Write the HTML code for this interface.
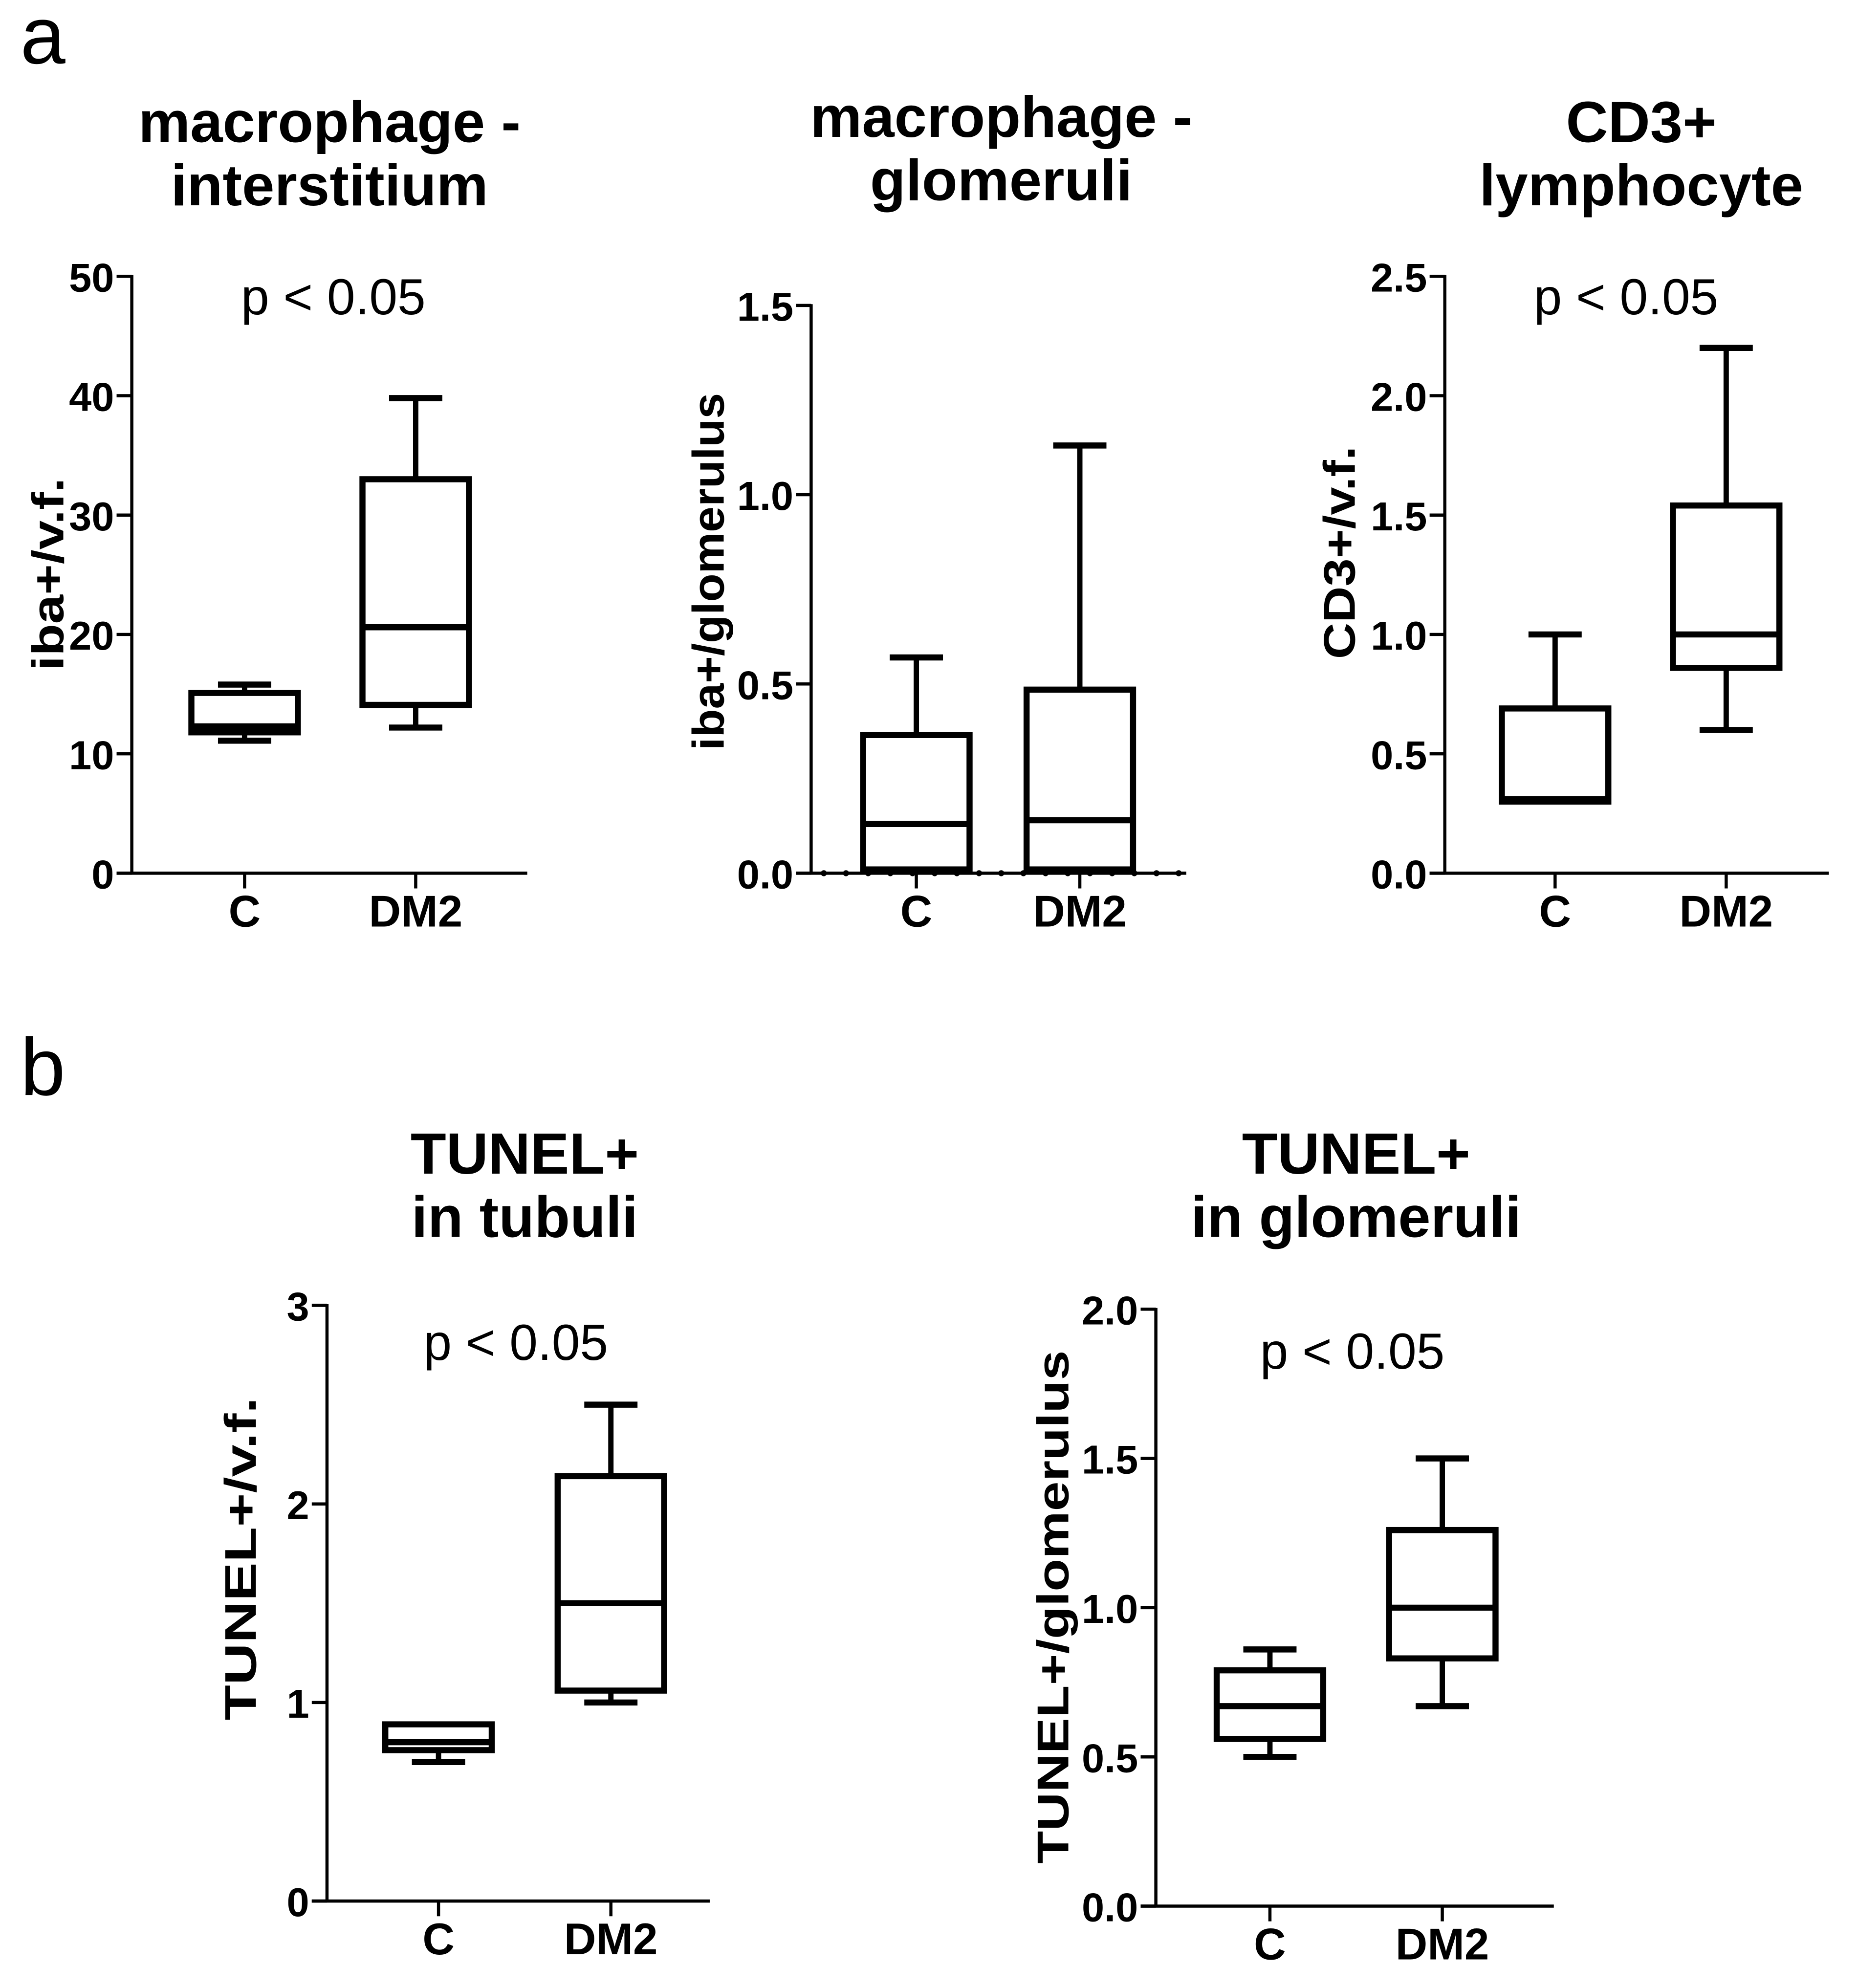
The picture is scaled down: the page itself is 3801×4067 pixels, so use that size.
<!DOCTYPE html>
<html><head><meta charset="utf-8"><style>
html,body{margin:0;padding:0;background:#fff;}
svg{display:block;}
text{font-family:"Liberation Sans",Arial,sans-serif;fill:#000;}
.t{font-weight:bold;font-size:32px;}
.xl{font-weight:bold;font-size:35px;}
.ti{font-weight:bold;font-size:46px;}
.ax{font-weight:bold;font-size:35px;}
.p{font-size:40px;}
</style></head><body>
<svg id="fig" width="3801" height="4067" viewBox="0 0 1466 1568.6" xmlns="http://www.w3.org/2000/svg">
<text x="16" y="50" font-size="64">a</text>
<text x="16" y="864" font-size="64">b</text>
</svg>
<script>
// Data arrays: [min, q1, median, q3, max] for C and DM2
const categories = ["C", "DM2"];
const p1C = [11.1, 11.8, 12.3, 15.1, 15.8];
const p1D = [12.2, 14.1, 20.6, 33.0, 39.8];
const p1Ticks = [0, 10, 20, 30, 40, 50];
const p2C = [0.01, 0.01, 0.13, 0.365, 0.57];
const p2D = [0.01, 0.01, 0.14, 0.485, 1.13];
const p2Ticks = [0.0, 0.5, 1.0, 1.5];
const p3C = [0.3, 0.3, 0.31, 0.69, 1.0];
const p3D = [0.6, 0.86, 1.0, 1.54, 2.2];
const p3Ticks = [0.0, 0.5, 1.0, 1.5, 2.0, 2.5];
const p4C = [0.7, 0.76, 0.8, 0.89, 0.89];
const p4D = [1.0, 1.06, 1.5, 2.14, 2.5];
const p4Ticks = [0, 1, 2, 3];
const p5C = [0.5, 0.56, 0.67, 0.79, 0.86];
const p5D = [0.67, 0.83, 1.0, 1.26, 1.5];
const p5Ticks = [0.0, 0.5, 1.0, 1.5, 2.0];

const svg = document.getElementById('fig');
const NS = 'http://www.w3.org/2000/svg';
function mk(tag, attrs, parent) {
  const e = document.createElementNS(NS, tag);
  for (const k in attrs) e.setAttribute(k, attrs[k]);
  (parent || svg).appendChild(e);
  return e;
}
function txt(s, attrs, parent) { const e = mk('text', attrs, parent); e.textContent = s; return e; }

function panel(cfg) {
  const g = mk('g', {});
  
  
  const ymax = cfg.ticks[cfg.ticks.length - 1];
  const y = v => cfg.y0 - (v / ymax) * (cfg.y0 - cfg.yTop);
  const ya = mk('line', {x1: cfg.ax, y1: cfg.yTop - 1, x2: cfg.ax, y2: cfg.y0, stroke: '#000', 'stroke-width': 2.5}, g);
  
  
  const xa = mk('line', {x1: cfg.ax - 12, y1: cfg.y0, x2: cfg.xEnd, y2: cfg.y0, stroke: '#000', 'stroke-width': 2.5}, g);
  
  
  if (cfg.dots) {
    for (let x = cfg.ax + 10; x < cfg.xEnd; x += 17.5) mk('circle', {cx: x, cy: cfg.y0, r: 2.4, fill: '#000'}, g);
  }
  cfg.ticks.forEach(t => {
    mk('line', {x1: cfg.ax - 12, y1: y(t), x2: cfg.ax, y2: y(t), stroke: '#000', 'stroke-width': 2.5}, g);
    const lb = txt(cfg.fmt(t), {x: cfg.ax - 14, y: y(t) + 12, 'text-anchor': 'end', class: 't'}, g);
    
    
  });
  const data = [cfg.C, cfg.D];
  categories.forEach((c, i) => {
    const cx = cfg.cx[i];
    mk('line', {x1: cx, y1: cfg.y0, x2: cx, y2: cfg.y0 + 12, stroke: '#000', 'stroke-width': 2.5}, g);
    const lb = txt(c, {x: cx, y: cfg.y0 + 42, 'text-anchor': 'middle', class: 'xl'}, g);
    
    
    const d = data[i];
    const bg = mk('g', {stroke: '#000', 'stroke-width': 4.8, fill: 'none'}, g);
    
    
    const hw = 42;
    mk('line', {x1: cx, y1: y(d[4]), x2: cx, y2: y(d[3]), 'stroke-width': 4.2}, bg);
    mk('line', {x1: cx, y1: y(d[0]), x2: cx, y2: y(d[1]), 'stroke-width': 4.2}, bg);
    if (d[4] > d[3]) mk('line', {x1: cx - 21, y1: y(d[4]), x2: cx + 21, y2: y(d[4])}, bg);
    if (d[0] < d[1]) mk('line', {x1: cx - 21, y1: y(d[0]), x2: cx + 21, y2: y(d[0])}, bg);
    mk('rect', {x: cx - hw, y: y(d[3]), width: 2 * hw, height: Math.max(0.5, y(d[1]) - y(d[3]))}, bg);
    mk('line', {x1: cx - hw, y1: y(d[2]), x2: cx + hw, y2: y(d[2])}, bg);
  });
  const yt = txt(cfg.ylabel, {x: 0, y: 0, 'text-anchor': 'middle', class: 'ax', textLength: cfg.yLen, lengthAdjust: 'spacingAndGlyphs', transform: `translate(${cfg.ylx},${cfg.yly}) rotate(-90)`}, g);
  
  
  cfg.title.forEach((s, k) => {
    const tt = txt(s, {x: cfg.tx, y: cfg.ty + k * 50, 'text-anchor': 'middle', class: 'ti'}, g);
    
    
  });
  if (cfg.p) {
    const pt = txt('p < 0.05', {x: cfg.p[0], y: cfg.p[1], 'text-anchor': 'middle', class: 'p'}, g);
    
    
  }
}
const f0 = v => String(v), f1 = v => v.toFixed(1);
panel({name: 'chart-macrophage-interstitium', ax: 104, yTop: 218, y0: 689, xEnd: 416, cx: [193, 328], C: p1C, D: p1D, ticks: p1Ticks, fmt: f0,
  ylabel: 'iba+/v.f.', ylx: 50, yly: 453, yLen: 152, title: ['macrophage -', 'interstitium'], tx: 260, ty: 112, p: [263, 248]});
panel({name: 'chart-macrophage-glomeruli', ax: 640, yTop: 241, y0: 689, xEnd: 936, cx: [723, 852], C: p2C, D: p2D, ticks: p2Ticks, fmt: f1, dots: true,
  ylabel: 'iba+/glomerulus', ylx: 571, yly: 451, yLen: 282, title: ['macrophage -', 'glomeruli'], tx: 790, ty: 108});
panel({name: 'chart-cd3-lymphocyte', ax: 1140, yTop: 218, y0: 689, xEnd: 1443, cx: [1227, 1362], C: p3C, D: p3D, ticks: p3Ticks, fmt: f1,
  ylabel: 'CD3+/v.f.', ylx: 1069, yly: 436, yLen: 168, title: ['CD3+', 'lymphocyte'], tx: 1295, ty: 112, p: [1283, 248]});
panel({name: 'chart-tunel-tubuli', ax: 258, yTop: 1030, y0: 1500, xEnd: 560, cx: [346, 482], C: p4C, D: p4D, ticks: p4Ticks, fmt: f0,
  ylabel: 'TUNEL+/v.f.', ylx: 202, yly: 1230, yLen: 255, title: ['TUNEL+', 'in tubuli'], tx: 414, ty: 926, p: [407, 1073]});
panel({name: 'chart-tunel-glomeruli', ax: 912, yTop: 1033, y0: 1504, xEnd: 1226, cx: [1002, 1138], C: p5C, D: p5D, ticks: p5Ticks, fmt: f1,
  ylabel: 'TUNEL+/glomerulus', ylx: 843, yly: 1268, yLen: 405, title: ['TUNEL+', 'in glomeruli'], tx: 1070, ty: 926, p: [1067, 1080]});
</script>
</body></html>
